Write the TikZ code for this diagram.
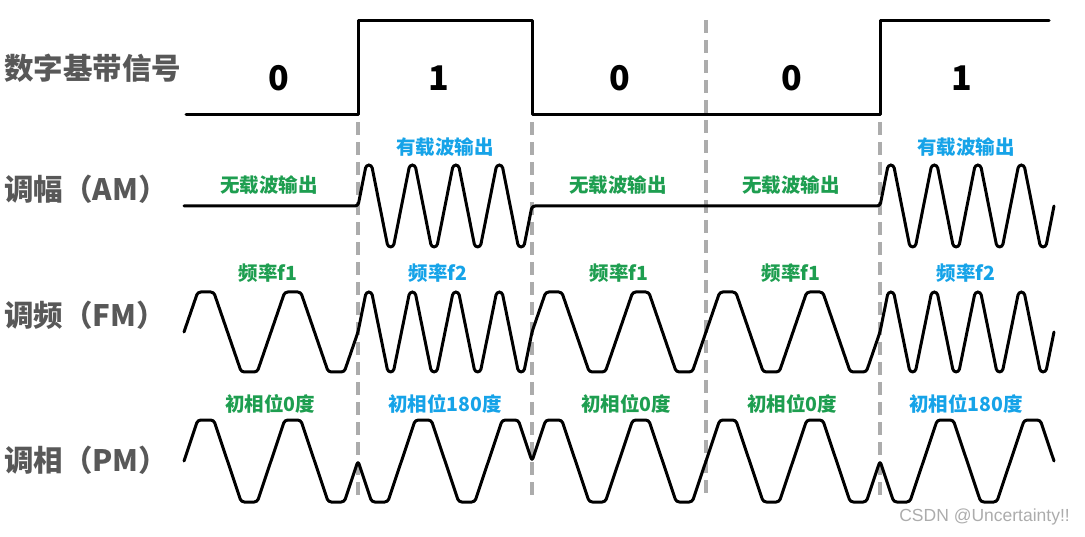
\documentclass[tikz,border=0pt]{standalone}
\usepackage{fontspec}
\usepackage{tikz}
\usetikzlibrary{positioning}
\newfontfamily\cjk{Noto Sans CJK SC}
\newfontfamily\markfont{Liberation Sans}
\definecolor{LabelGray}{RGB}{88, 88, 88}
\definecolor{NoGreen}{RGB}{30, 158, 80}
\definecolor{YesBlue}{RGB}{22, 163, 232}
\definecolor{SlotGray}{RGB}{172, 172, 172}

\begin{document}
\begin{tikzpicture}[x=1pt, y=-1pt]
        \tikzstyle{rowlabel} = [anchor=west, inner sep=0pt, text=LabelGray, font=\cjk\bfseries\fontsize{29.5}{32}\selectfont]
        \tikzstyle{bit} = [inner sep=0pt, font=\cjk\bfseries\fontsize{34}{36}\selectfont]
        \tikzstyle{nolbl} = [inner sep=0pt, text=NoGreen, font=\cjk\bfseries\fontsize{19.5}{21}\selectfont]
        \tikzstyle{yeslbl} = [nolbl, text=YesBlue]
        \tikzstyle{sigline} = [line width=3pt, line join=round, line cap=round, rounded corners=3pt]
        \tikzstyle{slot} = [draw=SlotGray, line width=3.5pt, dash pattern=on 13pt off 7pt]

        \useasboundingbox (0,0) rectangle (1085,537);

        % Bit borders
        \foreach \x/\ytop in {358/122, 532/122, 706/20, 880/122}
            \draw [slot] (\x,\ytop) -- (\x,500);

        % Row labels
        \node (rowBase) [rowlabel] at (4,68) {数字基带信号};
        \node (rowAM) [rowlabel] at (4,189) {调幅（AM）};
        \node (rowFM) [rowlabel] at (4,315) {调频（FM）};
        \node (rowPM) [rowlabel] at (4,460) {调相（PM）};

        % Baseband signal
        \draw [sigline, rounded corners=0pt] (186,115) -- (358,115) -- (358,21) -- (532,21) -- (532,115) -- (880,115) -- (880,21) -- (1049,21);
        \node (bitA) [bit] at (279,78) {0};
        \node (bitB) [bit] at (439,78) {1};
        \node (bitC) [bit] at (620,78) {0};
        \node (bitD) [bit] at (792,78) {0};
        \node (bitE) [bit] at (962,78) {1};

        % AM
        \draw [sigline] (184,206) -- (358,206)
            \foreach \i in {1,...,4} { -- ++(8.125,-41) -- ++(5.5,0) -- ++(16.25,82) -- ++(5.5,0) -- ++(8.125,-41) }
            -- (880,206)
            \foreach \i in {1,...,4} { -- ++(8.125,-41) -- ++(5.5,0) -- ++(16.25,82) -- ++(5.5,0) -- ++(8.125,-41) };
        \node (amA) [nolbl] at (269,185) {无载波输出};
        \node (amB) [yeslbl] at (445,147) {有载波输出};
        \node (amC) [nolbl] at (618,185) {无载波输出};
        \node (amD) [nolbl] at (791,185) {无载波输出};
        \node (amE) [yeslbl] at (966,147) {有载波输出};

        % FM
        \draw [sigline] (184,332)
            \foreach \n/\q/\w in {2/87/16, 4/43.5/5.5, 2/87/16, 2/87/16, 4/43.5/5.5} {
                \foreach \i in {1,...,\n} { -- ++(\q/4-\w/2,-40) -- ++(\w,0) -- ++(\q/2-\w,80) -- ++(\w,0) -- ++(\q/4-\w/2,-40) }
            };
        \node (fmA) [nolbl] at (268,273) {频率f1};
        \node (fmB) [yeslbl] at (438,273) {频率f2};
        \node (fmC) [nolbl] at (619,273) {频率f1};
        \node (fmD) [nolbl] at (791,273) {频率f1};
        \node (fmE) [yeslbl] at (966,273) {频率f2};

        % PM
        \draw [sigline] (184,461)
            \foreach \u/\d in {-41/82, 41/-82, -41/82, -41/82, 41/-82} {
                \foreach \i in {1,2} { -- ++(13.75,\u) -- ++(16,0) -- ++(27.5,\d) -- ++(16,0) -- ++(13.75,\u) }
            };
        \node (pmA) [nolbl] at (270,404) {初相位0度};
        \node (pmB) [yeslbl] at (445,404) {初相位180度};
        \node (pmC) [nolbl] at (626,404) {初相位0度};
        \node (pmD) [nolbl] at (792,404) {初相位0度};
        \node (pmE) [yeslbl] at (966,404) {初相位180度};

        % Watermark
        \node (mark) [anchor=east, inner sep=0pt, text=SlotGray, font=\markfont\fontsize{17.5}{19}\selectfont] at (1070,517) {CSDN @Uncertainty!!};
\end{tikzpicture}
\end{document}
